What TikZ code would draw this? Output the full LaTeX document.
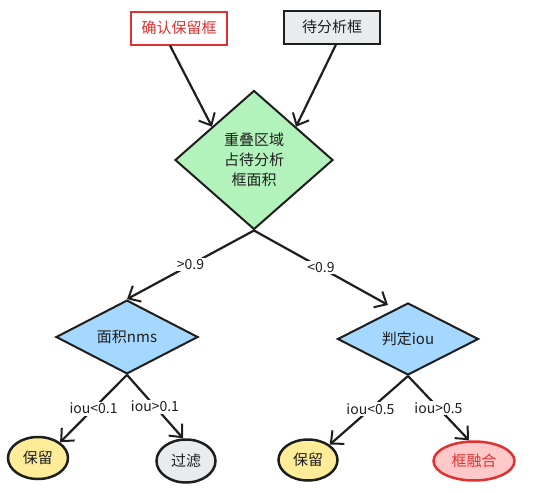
\documentclass[tikz,border=0pt]{standalone}
\usepackage{fontspec}
\setmainfont{Noto Sans CJK SC}
\usetikzlibrary{shapes.geometric,arrows.meta}
\definecolor{inkc}{HTML}{1E1E1E}
\definecolor{redc}{HTML}{E03131}
\definecolor{greyf}{HTML}{E9ECEF}
\definecolor{greenf}{HTML}{B2F2BB}
\definecolor{bluef}{HTML}{A5D8FF}
\definecolor{yellowf}{HTML}{FFEC99}
\definecolor{pinkf}{HTML}{FFC9C9}
\begin{document}
\begin{tikzpicture}[x=1pt,y=-1pt,
  every node/.style={font=\fontsize{15}{20}\selectfont, text=inkc},
  box/.style={draw=inkc, line width=2pt, rectangle, inner sep=0pt, minimum width=96pt, minimum height=33pt},
  dia/.style={draw=inkc, line width=2pt, diamond, inner sep=0pt, align=center},
  oval/.style={draw=inkc, line width=2.5pt, ellipse, inner sep=0pt},
  conn/.style={draw=inkc, line width=2.2pt, -{Straight Barb[length=10pt,width=18pt,line width=2pt]}},
  lbl/.style={fill=white, inner sep=1.5pt, font=\fontsize{14}{16}\selectfont}
]
\useasboundingbox (0,0) rectangle (547,493);
\node[box, draw=redc, text=redc, fill=white] (r1) at (179,28) {确认保留框};
\node[box, fill=greyf] (r2) at (332,27) {待分析框};
\node[dia, fill=greenf, minimum width=158pt, minimum height=139pt] (d1) at (254,160) {重叠区域\\占待分析\\框面积};
\node[dia, fill=bluef, minimum width=142pt, minimum height=71pt] (d2) at (127,337) {面积nms};
\node[dia, fill=bluef, minimum width=141pt, minimum height=72pt] (d3) at (408,339) {判定iou};
\node[oval, fill=yellowf, minimum width=60pt, minimum height=42pt] (e1) at (38,458) {保留};
\node[oval, fill=greyf, minimum width=59pt, minimum height=43pt] (e2) at (186,461) {过滤};
\node[oval, fill=yellowf, minimum width=59pt, minimum height=41pt] (e3) at (308,460) {保留};
\node[oval, draw=redc, fill=pinkf, text=redc, minimum width=81pt, minimum height=39pt] (e4) at (474,461) {框融合};
\draw[conn] ([xshift=-9pt]r1.south) -- ([xshift=-2pt,yshift=-2pt]d1.north west);
\draw[conn] ([xshift=4pt]r2.south) -- ([xshift=2pt,yshift=-2pt]d1.north east);
\draw[conn] (d1.south) -- node[lbl, pos=0.5] {>0.9} (d2.north);
\draw[conn] (d1.south) -- node[lbl, pos=0.5] {<0.9} ([xshift=-20pt,yshift=-3pt]d3.north);
\draw[conn] (d2.south) -- node[lbl, pos=0.5] {iou<0.1} (e1.north east);
\draw[conn] (d2.south) -- node[lbl, pos=0.5] {iou>0.1} ([xshift=-3pt]e2.north);
\draw[conn] (d3.south) -- node[lbl, pos=0.48] {iou<0.5} (e3.north east);
\draw[conn] (d3.south) -- node[lbl, pos=0.5] {iou>0.5} ([xshift=-5pt]e4.north);
\end{tikzpicture}
\end{document}
